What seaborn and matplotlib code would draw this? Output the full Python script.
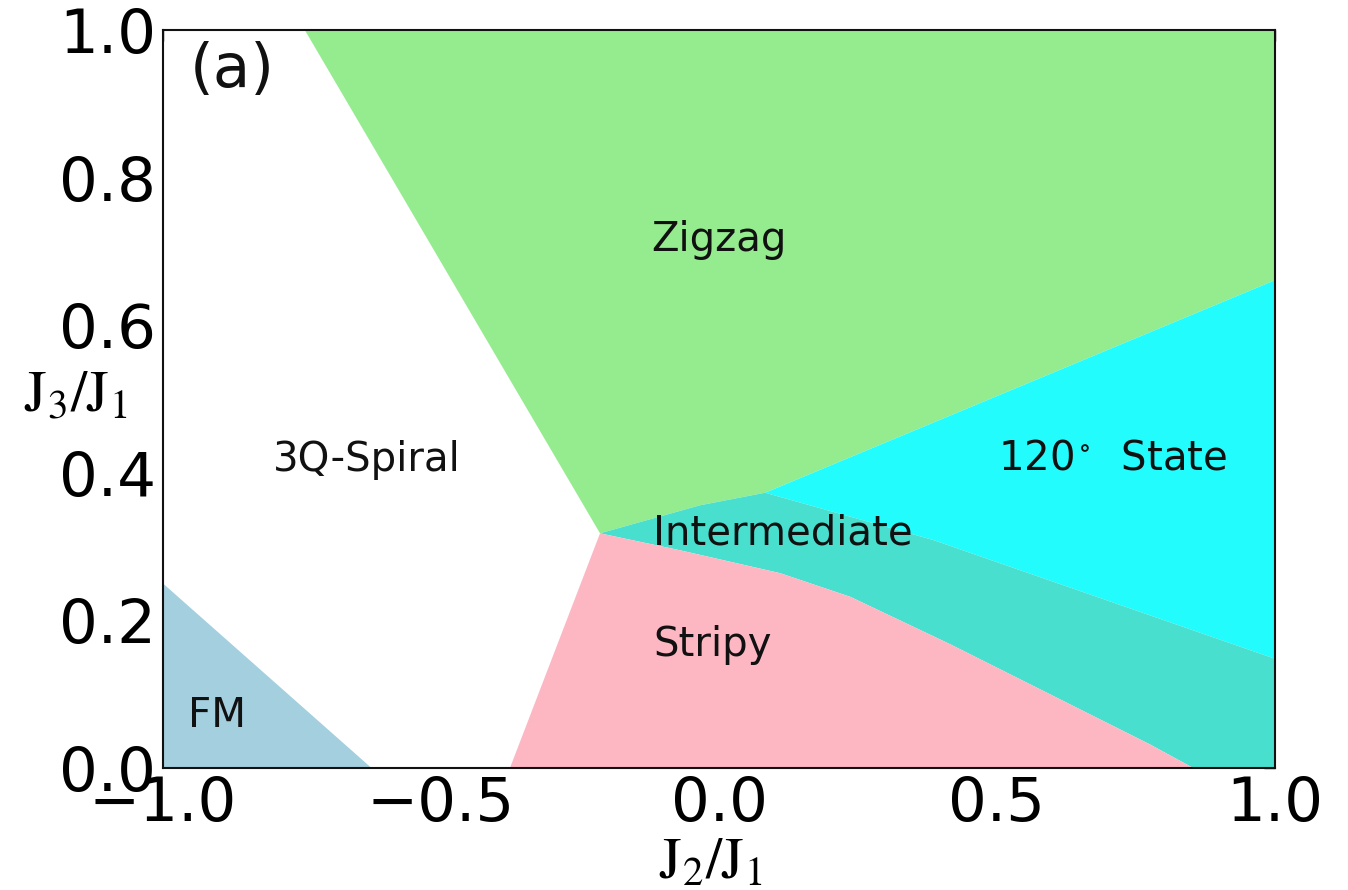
import matplotlib
matplotlib.use("Agg")
import matplotlib.pyplot as plt
import numpy as np
import seaborn as sns

# phase boundaries (J2/J1, J3/J1)
zigzag_left_x = [-0.745, -0.214]     # Zigzag | 3Q-Spiral
zigzag_left_y = [1.0, 0.318]
zigzag_low_x = [-0.214, -0.034, 0.083, 1.0]   # lower edge of Zigzag
zigzag_low_y = [0.318, 0.356, 0.373, 0.661]
state120_low_x = [0.083, 0.385, 1.0]          # 120 deg state | Intermediate
state120_low_y = [0.373, 0.309, 0.148]
stripy_top_x = [-0.214, -0.070, 0.110, 0.236, 0.415, 0.595, 0.775, 0.853]
stripy_top_y = [0.318, 0.295, 0.264, 0.232, 0.168, 0.100, 0.032, 0.0]
stripy_left_x = [-0.376, -0.214]             # Stripy | 3Q-Spiral
stripy_left_y = [0.0, 0.318]
fm_x = [-1.0, -1.0, -0.625]
fm_y = [0.0, 0.25, 0.0]

phase_names = ["(a)", "Zigzag", "3Q-Spiral", "120$^\\circ$  State",
               "Intermediate", "Stripy", "FM"]
label_x = [-0.952, -0.122, -0.802, 0.502, -0.118, -0.118, -0.955]
label_y = [0.945, 0.715, 0.417, 0.42, 0.318, 0.166, 0.07]
label_size = [44, 29, 29, 29, 29, 29, 29]

colors = {"zigzag": "#95ec8f", "state120": "#22fcfc", "inter": "#48dfcf",
          "stripy": "#fdb7c3", "fm": "#a3cfdf"}

sns.set_style("white")
plt.rcParams["mathtext.fontset"] = "stix"

fig = plt.figure(figsize=(13.48, 8.90), dpi=100)
ax = fig.add_axes([163 / 1348, 122 / 890, 1112 / 1348, 738 / 890])

# Zigzag
zx = zigzag_left_x[:1] + [1.0, 1.0] + zigzag_low_x[::-1][1:]
zy = zigzag_left_y[:1] + [1.0, zigzag_low_y[-1]] + zigzag_low_y[::-1][1:]
ax.fill(zx, zy, color=colors["zigzag"], lw=0)

# 120 degree state
cx = zigzag_low_x[2:] + state120_low_x[::-1][:-1]
cy = zigzag_low_y[2:] + state120_low_y[::-1][:-1]
ax.fill(cx, cy, color=colors["state120"], lw=0)

# Intermediate
ix = zigzag_low_x[:3] + state120_low_x[1:] + [1.0] + stripy_top_x[::-1]
iy = zigzag_low_y[:3] + state120_low_y[1:] + [0.0] + stripy_top_y[::-1]
ax.fill(ix, iy, color=colors["inter"], lw=0)

# Stripy
sx = stripy_left_x + stripy_top_x[1:]
sy = stripy_left_y + stripy_top_y[1:]
ax.fill(sx, sy, color=colors["stripy"], lw=0)

# FM
ax.fill(fm_x, fm_y, color=colors["fm"], lw=0)

for name, x, y, s in zip(phase_names, label_x, label_y, label_size):
    ax.text(x, y, name, fontsize=s, ha="left", va="center", color="#111111",
            family="DejaVu Sans")

ax.set_xlim(-1, 1)
ax.set_ylim(0, 1)
ax.set_xticks([-1.0, -0.5, 0.0, 0.5, 1.0])
ax.set_yticks([0.0, 0.2, 0.4, 0.6, 0.8, 1.0])
ax.tick_params(direction="in", top=True, right=True, length=8, width=1,
               labelsize=44, pad=5, color="#111111", labelcolor="black")
for sp in ax.spines.values():
    sp.set_color("#111111")
    sp.set_linewidth(1.5)

ax.set_xlabel(r"$\mathrm{J_2/J_1}$", fontsize=42, color="black")
ax.set_ylabel(r"$\mathrm{J_3/J_1}$", fontsize=42, rotation=0, color="black")
ax.xaxis.set_label_coords(0.492, -0.127)
ax.xaxis.label.set_va("center")
ax.yaxis.set_label_coords(-0.079, 0.505)
ax.yaxis.label.set_ha("center")
ax.yaxis.label.set_va("center")

fig.savefig("out.png", dpi=100)
